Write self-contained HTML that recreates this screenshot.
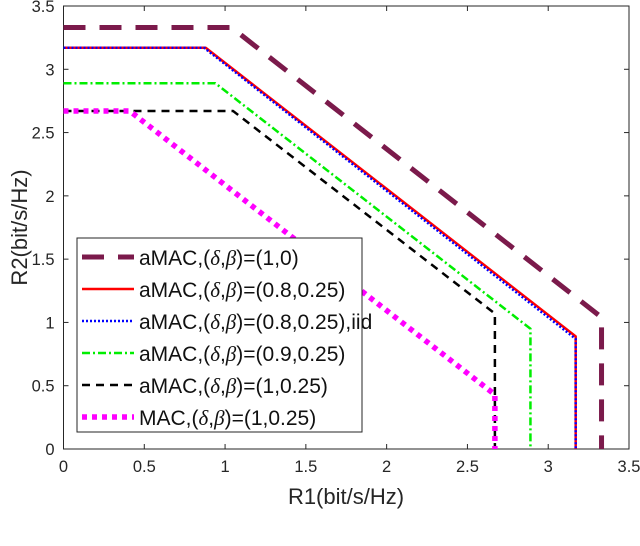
<!DOCTYPE html>
<html><head><meta charset="utf-8"><style>
body{margin:0;background:#fff;}
svg{display:block;font-family:"Liberation Sans",sans-serif;}
</style></head><body>
<svg id="chart" width="640" height="546"></svg>
<script>
const xTicks=[0,0.5,1,1.5,2,2.5,3,3.5];
const yTicks=[0,0.5,1,1.5,2,2.5,3,3.5];
const seriesPrefix=["aMAC","aMAC","aMAC","aMAC","aMAC","MAC"];
const seriesParams=["(1,0)","(0.8,0.25)","(0.8,0.25),iid","(0.9,0.25)","(1,0.25)","(1,0.25)"];
// each: [flat R2, corner R1, vertical R1, corner R2]
const purpleCurve=[3.33,1.04,3.33,1.04];
const redCurve=[3.17,0.88,3.17,0.89];
const blueCurve=[3.17,0.87,3.17,0.87];
const greenCurve=[2.89,0.94,2.89,0.95];
const blackCurve=[2.67,1.05,2.67,1.07];
const magentaCurve=[2.67,0.41,2.67,0.43];
const curves=[purpleCurve,redCurve,blueCurve,greenCurve,blackCurve,magentaCurve];
const styles=[
 {c:"#7b1a4b",w:5,d:"22 14"},
 {c:"#ff0000",w:2.5,d:""},
 {c:"#0000ff",w:2.5,d:"2 2"},
 {c:"#00ee00",w:2.5,d:"8 3 2 3"},
 {c:"#000000",w:2.5,d:"8 6"},
 {c:"#ff00ff",w:5.5,d:"5 5"}];
const L=63.5,R=629,T=6,B=449;
const sx=v=>L+(v-0)/3.5*(R-L);
const sy=v=>B-(v-0)/3.5*(B-T);
const NS="http://www.w3.org/2000/svg";
const svg=document.getElementById('chart');
function mk(t,a,p){const e=document.createElementNS(NS,t);for(const k in a)e.setAttribute(k,a[k]);(p||svg).appendChild(e);return e;}
const frame=mk('rect',{x:L,y:T,width:R-L,height:B-T,fill:'none',stroke:'#262626','stroke-width':1});


const cg=mk('g',{'clip-path':'url(#clp)'});
const defs=mk('defs',{});const cp=mk('clipPath',{id:'clp'},defs);mk('rect',{x:L,y:T,width:R-L,height:B-T},cp);
curves.forEach((c,i)=>{
 const s=styles[i];
 const d=`M${sx(0)},${sy(c[0])} L${sx(c[1])},${sy(c[0])} L${sx(c[2])},${sy(c[3])} L${sx(c[2])},${sy(0)}`;
 const p=mk('path',{d:d,fill:'none',stroke:s.c,'stroke-width':s.w,'stroke-dasharray':s.d,'stroke-linejoin':'round'},cg);
 
 
});
xTicks.forEach(v=>{
 mk('line',{x1:sx(v),x2:sx(v),y1:B,y2:B-5,stroke:'#262626'});
 mk('line',{x1:sx(v),x2:sx(v),y1:T,y2:T+5,stroke:'#262626'});
 const t=mk('text',{x:sx(v),y:B+23,'text-anchor':'middle','font-size':16.5,fill:'#262626'});t.textContent=v;
 
 
});
yTicks.forEach(v=>{
 mk('line',{x1:L,x2:L+5,y1:sy(v),y2:sy(v),stroke:'#262626'});
 mk('line',{x1:R,x2:R-5,y1:sy(v),y2:sy(v),stroke:'#262626'});
 const t=mk('text',{x:L-9,y:sy(v)+6,'text-anchor':'end','font-size':16.5,fill:'#262626'});t.textContent=v;
 
 
});
const xl=mk('text',{x:346,y:504,'text-anchor':'middle','font-size':22,fill:'#262626'});xl.textContent='R1(bit/s/Hz)';


const yl=mk('text',{x:0,y:0,'text-anchor':'middle','font-size':22,fill:'#262626',transform:`translate(27,${(T+B)/2}) rotate(-90)`});yl.textContent='R2(bit/s/Hz)';


const lg=mk('g',{});


mk('rect',{x:77,y:238,width:285,height:194,fill:'#fff',stroke:'#262626','stroke-width':1},lg);
seriesPrefix.forEach((n,i)=>{
 const y=257+i*32,s=styles[i];
 mk('line',{x1:82,x2:134,y1:y,y2:y,stroke:s.c,'stroke-width':s.w,'stroke-dasharray':s.d},lg);
 const t=mk('text',{x:139,y:y+8,'font-size':21,fill:'#111'},lg);
 t.innerHTML=n+',(<tspan font-family="Liberation Serif" font-style="italic">δ</tspan>,<tspan font-family="Liberation Serif" font-style="italic">β</tspan>)='+seriesParams[i];
 
 
});
</script>
</body></html>
